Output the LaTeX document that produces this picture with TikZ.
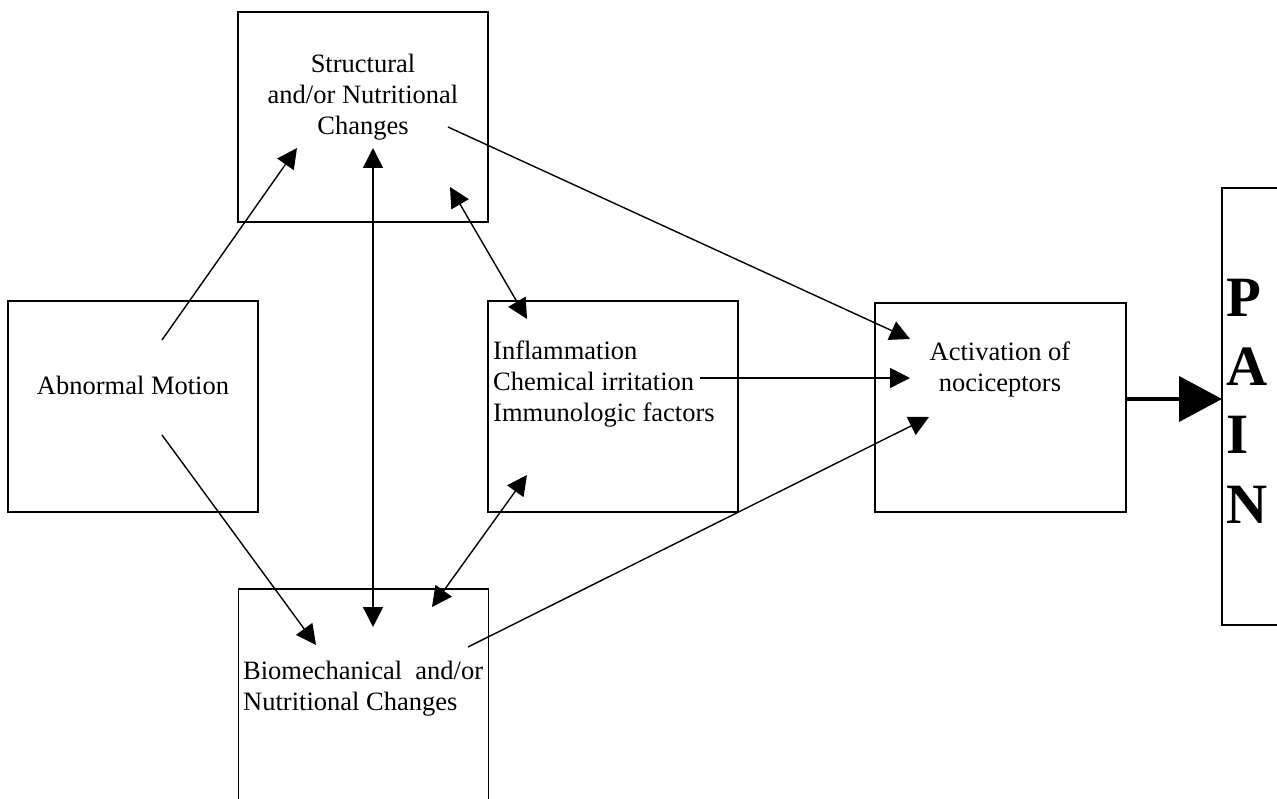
\documentclass[tikz,border=0pt]{standalone}
\usepackage{fontspec}
\setmainfont{Liberation Serif}
\usetikzlibrary{arrows.meta}
\begin{document}
\begin{tikzpicture}[x=1pt,y=-1pt,
  boxshape/.style={draw,line width=1.5pt,rectangle,inner sep=0pt},
  lbl/.style={inner sep=0pt,font=\fontsize{26.5}{31}\selectfont},
  conn/.style={line width=1.4pt,-{Triangle[length=20pt,width=20pt]}},
  dconn/.style={line width=1.4pt,{Triangle[length=20pt,width=20pt]}-{Triangle[length=20pt,width=20pt]}},
  bigconn/.style={line width=4pt,-{Triangle[length=43pt,width=45pt]}},
  painlet/.style={inner sep=0pt,anchor=base west,font=\fontsize{57}{60}\selectfont\bfseries}]
\useasboundingbox (0,0) rectangle (1277,799);
% boxes
\node[boxshape,minimum width=250pt,minimum height=210pt] (sbox) at (363,117) {};
\node[boxshape,minimum width=250pt,minimum height=211pt] (abox) at (133,406.5) {};
\node[boxshape,minimum width=250pt,minimum height=211pt] (ibox) at (613,406.5) {};
\node[boxshape,minimum width=251pt,minimum height=209pt] (cbox) at (1000.5,407.5) {};
\node[boxshape,minimum width=250pt,minimum height=240pt] (bbox) at (363.5,709) {};
\node[boxshape,minimum width=90pt,minimum height=437pt] (pbox) at (1267,406.5) {};
% texts
\node[lbl,align=center] (stxt) at (363,97) {Structural\\and/or Nutritional\\Changes};
\node[lbl] (atxt) at (133,385) {Abnormal Motion};
\node[lbl,align=left,anchor=west] (itxt) at (493,384) {Inflammation\\Chemical irritation\\Immunologic factors};
\node[lbl,align=center] (ctxt) at (1000,369) {Activation of\\nociceptors};
\node[lbl,align=left,anchor=west] (btxt) at (243,689) {Biomechanical\hspace{0.25em} and/or\\Nutritional Changes};
\node[painlet] (pP) at (1226,317) {P};
\node[painlet] (pA) at (1226,385) {A};
\node[painlet] (pI) at (1226,453) {I};
\node[painlet] (pN) at (1226,523) {N};
% connector end points
\coordinate (a1) at (162,340);
\coordinate (s1) at (297,148);
\coordinate (a2) at (162,435);
\coordinate (b1) at (316,645);
\coordinate (s2) at (373,148);
\coordinate (b2) at (373,627);
\coordinate (s3) at (450,187);
\coordinate (i1) at (527,319);
\coordinate (i2) at (527,475);
\coordinate (b3) at (432,607);
\coordinate (s4) at (448,127);
\coordinate (c1) at (910,339);
\coordinate (i3) at (700,378);
\coordinate (c2) at (910,378);
\coordinate (b4) at (468,647);
\coordinate (c3) at (929,417);
\coordinate (c4) at (1126,399);
\coordinate (p1) at (1222,399);
% connectors
\draw[conn] (a1) -- (s1);
\draw[conn] (a2) -- (b1);
\draw[dconn] (s2) -- (b2);
\draw[dconn] (s3) -- (i1);
\draw[dconn] (i2) -- (b3);
\draw[conn] (s4) -- (c1);
\draw[conn] (i3) -- (c2);
\draw[conn] (b4) -- (c3);
\draw[bigconn] (c4) -- (p1);
\end{tikzpicture}
\end{document}
